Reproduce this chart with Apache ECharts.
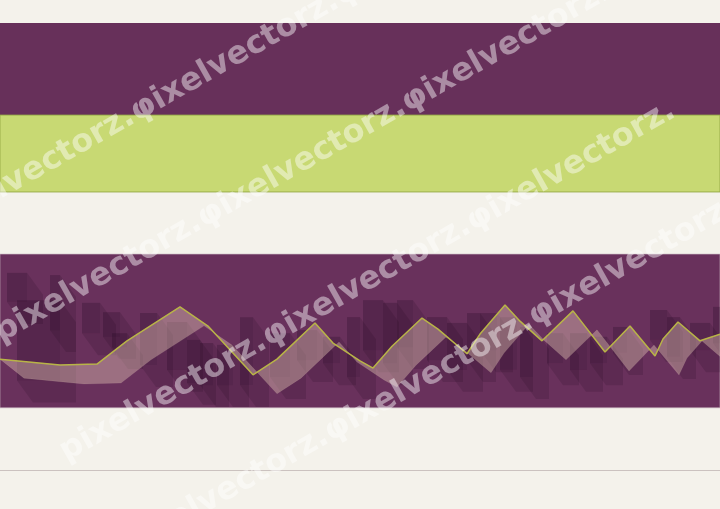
<!DOCTYPE html>
<html><head><meta charset="utf-8">
<script src="https://cdn.jsdelivr.net/npm/echarts@6/dist/echarts.min.js"></script>
<style>html,body{margin:0;padding:0;background:#f4f2eb}#c{width:720px;height:509px}</style>
</head><body><div id="c"></div>
<script>
// ---- data ----
const bandLow  = [79.4, 62.2, 13.9];
const bandHigh = [100, 79.4, 48.3];

const lineX = [0, 3, 4.85, 6.35, 9.0, 10.4, 12.65, 13.85, 15.75, 16.65, 18.0, 18.65, 19.6, 21.1, 21.9, 23.35, 24.0, 25.25, 26.0, 27.1, 28.65, 30.25, 31.5, 32.75, 33.15, 33.9, 35.0, 36.0];
const lineY = [24.8, 23.5, 23.7, 28.9, 36.5, 32.2, 21.3, 24.8, 32.9, 28.4, 24.4, 22.8, 27.7, 34.0, 31.5, 26.0, 30.4, 36.9, 33.3, 28.9, 35.6, 26.4, 32.2, 25.5, 29.3, 33.1, 28.9, 30.4];

const blockX0   = [0.35, 0.85, 2.5, 4.1, 5.15, 5.6, 7.0, 8.35, 9.35, 10.0, 10.85, 12.0, 13.5, 14.85, 16.15, 17.35, 18.15, 19.15, 19.85, 21.35, 22.35, 23.35, 24.0, 25.0, 26.0, 27.35, 28.5, 29.5, 30.65, 32.5, 33.35, 34.5, 35.65];
const blockX1   = [1.35, 3.0, 3.0, 5.0, 6.0, 6.35, 7.85, 9.35, 10.0, 10.65, 11.65, 12.65, 14.5, 15.85, 17.0, 18.0, 19.15, 19.85, 20.65, 22.35, 23.35, 24.0, 24.85, 25.85, 26.65, 28.15, 29.35, 30.35, 31.35, 33.35, 34.0, 35.5, 36.0];
const blockLow  = [37.6, 20.0, 31.3, 30.6, 29.8, 27.5, 23.5, 22.4, 19.5, 19.0, 19.0, 19.0, 20.8, 24.6, 23.9, 20.8, 26.8, 23.9, 27.5, 24.6, 22.4, 24.6, 26.8, 22.4, 20.8, 23.9, 22.4, 23.9, 26.2, 29.1, 25.3, 26.8, 28.4];
const blockHigh = [44.1, 38.0, 43.6, 37.4, 35.3, 30.6, 35.1, 33.1, 29.1, 28.4, 28.0, 34.2, 30.6, 31.3, 29.8, 34.2, 38.0, 37.4, 38.0, 34.2, 32.9, 35.1, 35.1, 34.2, 32.0, 30.6, 30.6, 29.8, 32.0, 35.8, 34.2, 32.9, 36.5];

const watermarkText = 'pixelvectorz.φixelvectorz.φixelvectorz.';

// ---- styles ----
const bandColors = ['#67305a', '#c8d973', '#69315c'];
const bandBorders = ['rgba(0,0,0,0)', 'rgba(150,170,70,0.9)', 'rgba(200,180,190,0.6)'];
const EXT = [16, 22];           // extrusion offset (px)
const RIB = [24, 19];           // ribbon offset (px)
const wmStarts = [[-62, 243], [5, 349], [70, 468], [132, 563]];

const chart = echarts.init(document.getElementById('c'), null, {renderer: 'canvas'});

const ribbonSeries = {
  type: 'custom',
  z: 4,
  silent: true,
  data: [[0]],
  renderItem: function (params, api) {
    const pts = lineX.map((x, i) => api.coord([x, lineY[i]]));
    const low = pts.slice().reverse().map(p => [p[0] + RIB[0], p[1] + RIB[1]]);
    return {
      type: 'polygon',
      shape: {points: pts.concat(low)},
      style: {fill: 'rgba(238,212,190,0.38)', stroke: 'rgba(238,215,190,0.2)', lineWidth: 0.5}
    };
  }
};

const blockSeries = {
  type: 'custom',
  z: 3,
  silent: true,
  data: blockX0.map((x0, i) => [x0, blockX1[i], blockLow[i], blockHigh[i]]),
  renderItem: function (params, api) {
    const tl = api.coord([api.value(0), api.value(3)]);
    const br = api.coord([api.value(1), api.value(2)]);
    const x = tl[0], y = tl[1], w = br[0] - tl[0], h = br[1] - tl[1];
    return {
      type: 'group',
      children: [
        {type: 'polygon', shape: {points: [[x + w, y], [x + w + EXT[0], y + EXT[1]], [x + w + EXT[0], y + h + EXT[1]], [x + EXT[0], y + h + EXT[1]], [x, y + h], [x + w, y + h]]},
         style: {fill: 'rgba(30,5,28,0.15)'}},
        {type: 'rect', shape: {x: x, y: y, width: w, height: h}, style: {fill: 'rgba(30,5,28,0.24)'}}
      ]
    };
  }
};

const graphics = wmStarts.map(s => ({
  type: 'text',
  x: s[0], y: s[1],
  rotation: 29.5 * Math.PI / 180,
  z: 100,
  silent: true,
  style: {
    text: watermarkText,
    font: 'bold 32px "DejaVu Sans"',
    fill: 'rgba(255,255,255,0.45)',
    textAlign: 'left',
    textVerticalAlign: 'bottom',
    shadowColor: 'rgba(0,0,0,0.45)',
    shadowOffsetX: 0.5,
    shadowOffsetY: 1.5,
    shadowBlur: 1
  }
}));

chart.setOption({
  backgroundColor: '#f4f2eb',
  animation: false,
  grid: {left: -1, right: -1, top: 23, bottom: 39},
  xAxis: {type: 'value', min: 0, max: 36, axisLine: {show: true, lineStyle: {color: '#cbc2bf', width: 1}}, axisTick: {show: false}, axisLabel: {show: false}, splitLine: {show: false}},
  yAxis: {type: 'value', min: 0, max: 100, show: false, splitLine: {show: false}},
  graphic: graphics,
  series: [
    {
      type: 'line', data: [], z: 1,
      markArea: {
        silent: true,
        data: bandLow.map((l, i) => [
          {yAxis: l, itemStyle: {color: bandColors[i], borderColor: bandBorders[i], borderWidth: 1}},
          {yAxis: bandHigh[i]}
        ])
      }
    },
    blockSeries,
    ribbonSeries,
    {
      type: 'line', z: 5, silent: true,
      data: lineX.map((x, i) => [x, lineY[i]]),
      symbol: 'none',
      lineStyle: {color: '#b8b446', width: 1.5}
    }
  ]
});
</script></body></html>
